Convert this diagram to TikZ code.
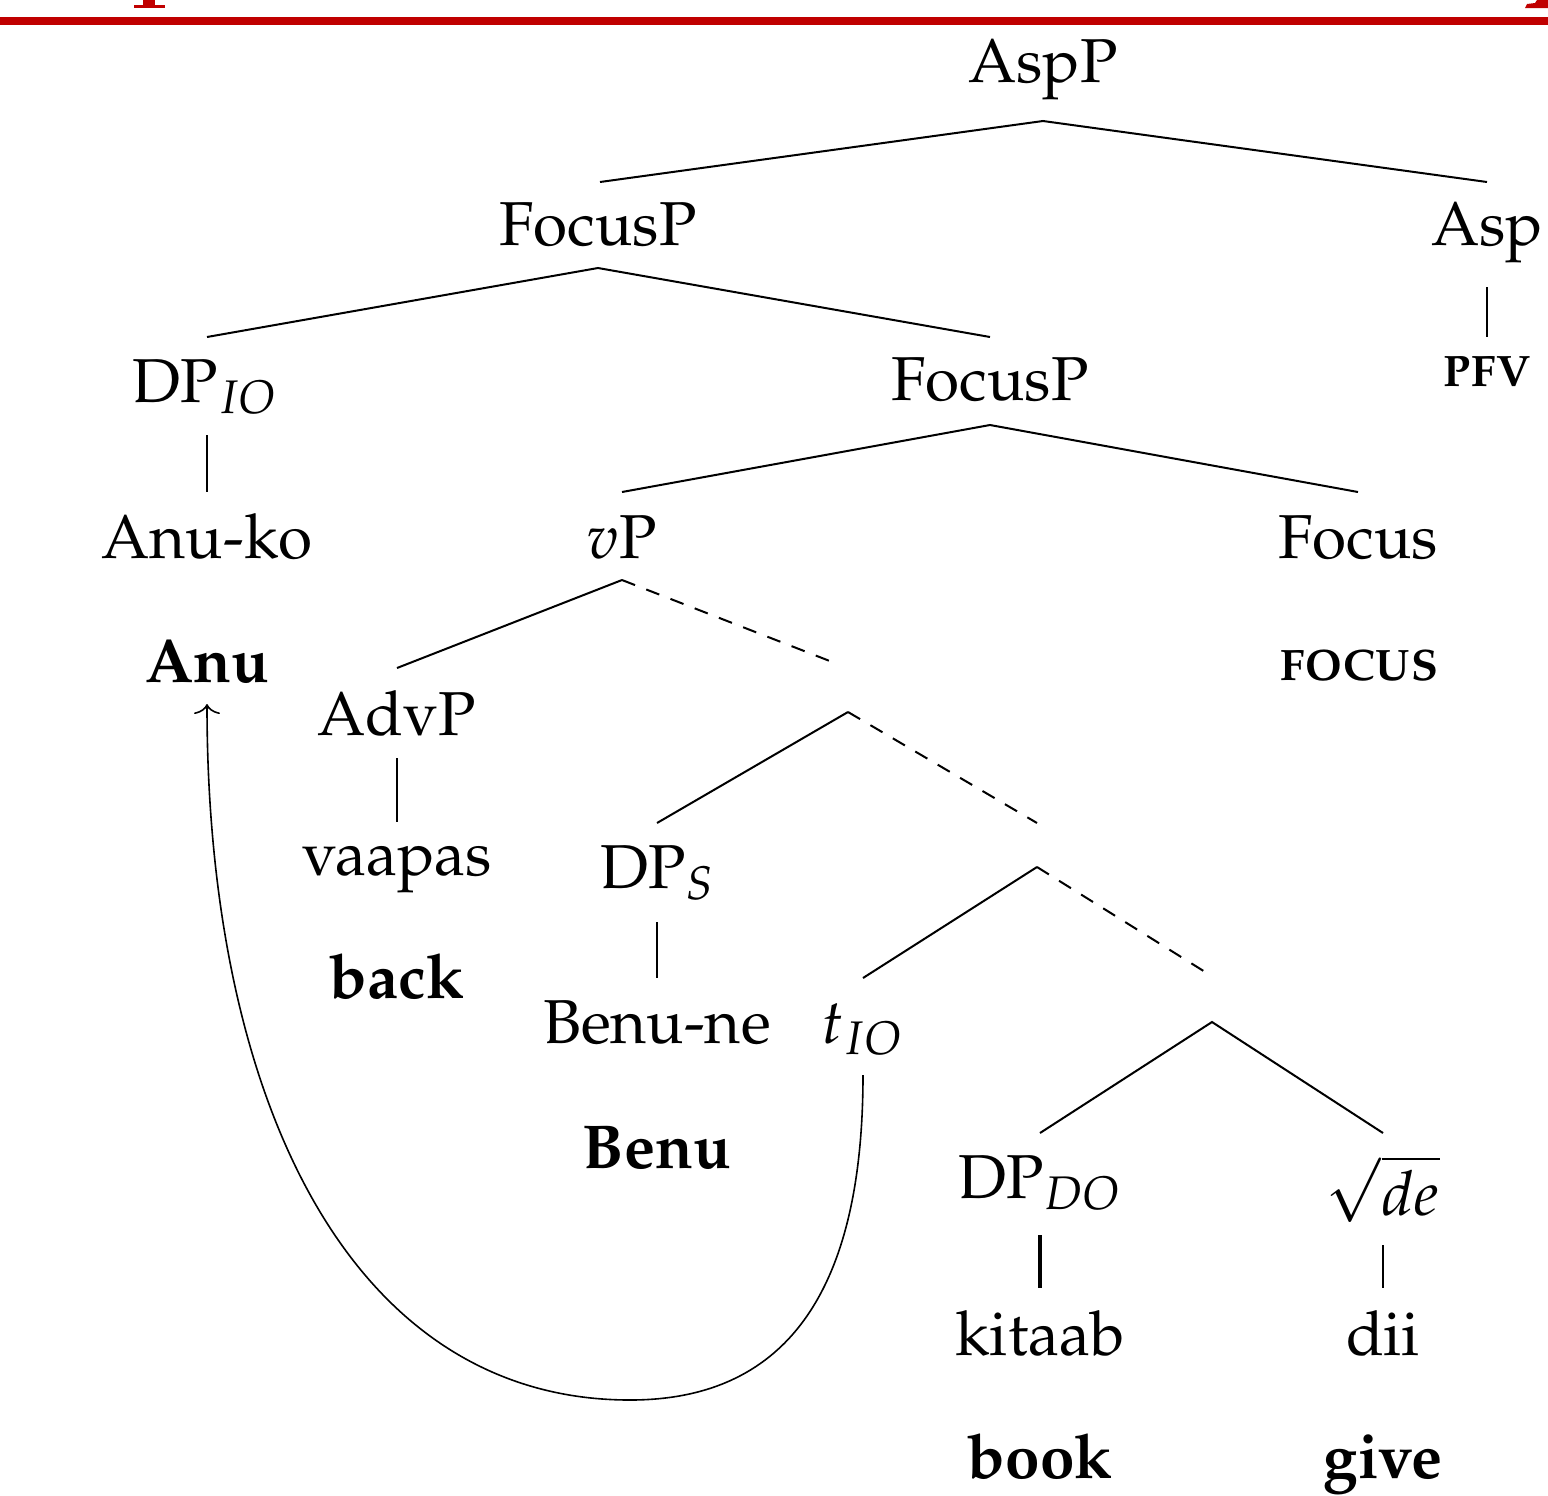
\documentclass[tikz,border=0pt]{standalone}
\usepackage[T1]{fontenc}
\usepackage[sc]{mathpazo}
\usetikzlibrary{calc,arrows.meta}
\definecolor{topred}{RGB}{192,0,0}
\newcommand\mainsize{\fontsize{31}{38}\selectfont}
\newcommand\scsize{\fontsize{22}{26}\selectfont}
\tikzset{
  lbl/.style={anchor=base, inner sep=0pt, font=\mainsize},
  gloss/.style={lbl, font=\mainsize\bfseries},
  scgloss/.style={lbl, font=\scsize\bfseries},
  branch/.style={line width=1pt},
  dashbranch/.style={line width=1pt, dash pattern=on 7pt off 6pt},
}
\begin{document}
\begin{tikzpicture}[x=0.5pt,y=-0.5pt]
\useasboundingbox (0,0) rectangle (1548,1495);
% red header rule and cut-off title glyphs
\fill[topred] (0,17) rectangle (1548,25);
\fill[topred] (143,0) rectangle (155,5);
\fill[topred] (134,5) rectangle (165,8);
\fill[topred] (1525,8) -- (1527,4) -- (1535,3) -- (1537,0) -- (1548,0) -- (1548,8) -- cycle;

% nodes
\node[lbl] (AspP) at (1043,82) {AspP};
\node[lbl] (FocusP1) at (598,245) {FocusP};
\node[lbl] (Asp) at (1487,245) {Asp};
\node[scgloss] (PFV) at (1487,386) {P\kern0.5pt F\kern0.5pt V};
\node[lbl] (DPIO) at (205,402) {DP$_{IO}$};
\node[lbl] (FocusP2) at (990,400) {FocusP};
\node[lbl] (Anuko) at (207,558) {Anu-ko};
\node[lbl] (vP) at (622,558) {$v$P};
\node[lbl] (Focus) at (1358,558) {Focus};
\node[gloss] (Anu) at (207,682) {Anu};
\node[scgloss] (FOCUS) at (1359,680) {F\kern0.5pt O\kern0.5pt C\kern0.5pt U\kern0.5pt S};
\node[lbl] (AdvP) at (397,735) {AdvP};
\node[lbl] (vaapas) at (397,875) {vaapas};
\node[gloss] (back) at (397,998) {back};
\node[lbl] (DPS) at (657,888) {DP$_{S}$};
\node[lbl] (Benune) at (657,1043) {Benu-ne};
\node[gloss] (Benu) at (657,1168) {Benu};
\node[lbl] (tIO) at (862,1043) {$t_{IO}$};
\node[lbl] (DPDO) at (1040,1198) {DP$_{DO}$};
\node[lbl] (de) at (1383,1215) {$\sqrt{de}$};
\node[lbl] (kitaab) at (1040,1355) {kitaab};
\node[lbl] (dii) at (1383,1355) {dii};
\node[gloss] (book) at (1040,1478) {book};
\node[gloss] (give) at (1383,1478) {give};

% attachment points
\coordinate (AspP-b) at ($(AspP.base)+(0,39)$);
\coordinate (FocusP1-t) at ($(FocusP1.base)+(2,-63)$);
\coordinate (FocusP1-b) at ($(FocusP1.base)+(0,23)$);
\coordinate (Asp-t) at ($(Asp.base)+(0,-63)$);
\coordinate (Asp-b) at ($(Asp.base)+(0,42)$);
\coordinate (PFV-t) at ($(PFV.base)+(0,-49)$);
\coordinate (DPIO-t) at ($(DPIO.base)+(2,-65)$);
\coordinate (DPIO-b) at ($(DPIO.base)+(2,33)$);
\coordinate (FocusP2-t) at ($(FocusP2.base)+(0,-63)$);
\coordinate (FocusP2-b) at ($(FocusP2.base)+(0,25)$);
\coordinate (Anuko-t) at ($(Anuko.base)+(0,-66)$);
\coordinate (vP-t) at ($(vP.base)+(0,-66)$);
\coordinate (vP-b) at ($(vP.base)+(0,22)$);
\coordinate (Focus-t) at ($(Focus.base)+(0,-66)$);
\coordinate (AdvP-t) at ($(AdvP.base)+(0,-67)$);
\coordinate (AdvP-b) at ($(AdvP.base)+(0,23)$);
\coordinate (vaapas-t) at ($(vaapas.base)+(0,-53)$);
\coordinate (j1-t) at (840,665);
\coordinate (j1) at (848,712);
\coordinate (DPS-t) at ($(DPS.base)+(0,-65)$);
\coordinate (DPS-b) at ($(DPS.base)+(0,34)$);
\coordinate (Benune-t) at ($(Benune.base)+(0,-65)$);
\coordinate (j2-t) at (1037,823);
\coordinate (j2) at (1037,867);
\coordinate (tIO-t) at ($(tIO.base)+(1,-65)$);
\coordinate (tIO-b) at ($(tIO.base)+(1,32)$);
\coordinate (j3-t) at (1210,975);
\coordinate (j3) at (1212,1022);
\coordinate (DPDO-t) at ($(DPDO.base)+(0,-65)$);
\coordinate (DPDO-b) at ($(DPDO.base)+(0,37)$);
\coordinate (de-t) at ($(de.base)+(0,-82)$);
\coordinate (de-b) at ($(de.base)+(0,30)$);
\coordinate (kitaab-t) at ($(kitaab.base)+(0,-67)$);
\coordinate (dii-t) at ($(dii.base)+(0,-67)$);
\coordinate (Anu-b) at ($(Anu.base)+(0,22)$);

% branches
\draw[branch] (FocusP1-t) -- (AspP-b) -- (Asp-t);
\draw[branch] (Asp-b) -- (PFV-t);
\draw[branch] (DPIO-t) -- (FocusP1-b) -- (FocusP2-t);
\draw[branch] (DPIO-b) -- (Anuko-t);
\draw[branch] (vP-t) -- (FocusP2-b) -- (Focus-t);
\draw[branch] (vP-b) -- (AdvP-t);
\draw[dashbranch] (vP-b) -- (j1-t);
\draw[branch] (AdvP-b) -- (vaapas-t);
\draw[branch] (j1) -- (DPS-t);
\draw[dashbranch] (j1) -- (j2-t);
\draw[branch] (DPS-b) -- (Benune-t);
\draw[branch] (j2) -- (tIO-t);
\draw[dashbranch] (j2) -- (j3-t);
\draw[branch] (DPDO-t) -- (j3) -- (de-t |- DPDO-t);
\draw[line width=1.7pt] (DPDO-b) -- (kitaab-t);
\draw[branch] (de-b) -- (dii-t);

% movement arrow
\draw[line width=0.8pt,-{To[length=5pt,width=13pt,line width=0.8pt]}] (tIO-b) .. controls (863,1300) and (780,1400) .. (630,1400)
  .. controls (350,1400) and (207,1100) .. (Anu-b);
\end{tikzpicture}
\end{document}
